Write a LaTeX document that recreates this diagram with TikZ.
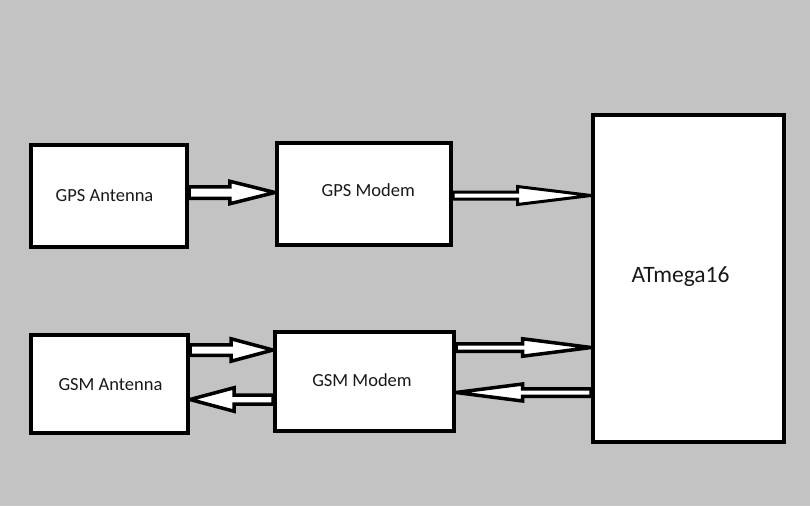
\documentclass[tikz,border=0pt]{standalone}
\usepackage{fontspec}
\setmainfont{Carlito}
\usetikzlibrary{calc,backgrounds}
\definecolor{bggray}{HTML}{C3C3C3}
\tikzset{
  boxnode/.style={draw=black, fill=white, line width=4pt, rectangle, inner sep=0pt},
  lbl/.style={anchor=base, font=\fontsize{18.5}{20}\selectfont, inner sep=0pt, text=black!90},
  biglbl/.style={anchor=base, font=\fontsize{23.5}{26}\selectfont, inner sep=0pt, text=black!90},
  arrowline/.style={draw=black, fill=white, line join=miter}
}
% #1 start, #2 tip, #3 shaft half, #4 head half, #5 signed head length, #6 line width
\newcommand\blockarrow[6]{%
  \draw[arrowline, line width=#6pt] let \p1=(#1), \p2=(#2) in
    (\x1,{\y1+#3pt}) -- ({\x2-#5pt},{\y1+#3pt}) -- ({\x2-#5pt},{\y1+#4pt})
    -- (\x2,\y1) -- ({\x2-#5pt},{\y1-#4pt}) -- ({\x2-#5pt},{\y1-#3pt})
    -- (\x1,{\y1-#3pt}) -- cycle;}
\begin{document}
\begin{tikzpicture}[x=1pt,y=-1pt]
\path[use as bounding box] (0,0) rectangle (810,506);
% boxes
\node[boxnode, minimum width=156pt, minimum height=102pt] (gpsant) at (109,196) {};
\node[boxnode, minimum width=174pt, minimum height=102pt] (gpsmod) at (364,194) {};
\node[boxnode, minimum width=191pt, minimum height=327pt] (atmega) at (688.5,278.5) {};
\node[boxnode, minimum width=157pt, minimum height=98pt] (gsmant) at (109.5,384) {};
\node[boxnode, minimum width=179pt, minimum height=99pt] (gsmmod) at (364.5,381.5) {};
% labels
\node[lbl] (tgpsant) at (104.5,201) {GPS Antenna};
\node[lbl] (tgpsmod) at (368.3,196.7) {GPS Modem};
\node[lbl] (tgsmant) at (110.5,390) {GSM Antenna};
\node[lbl] (tgsmmod) at (362,386.7) {GSM Modem};
\node[biglbl] (tatmega) at (680.5,282) {ATmega16};
\begin{pgfonlayer}{background}
\fill[bggray] (0,0) rectangle (810,506);
\blockarrow{[yshift=3.5pt]gpsant.east}{gpsmod.west}{5.75}{11.25}{45.25}{3.5}
\blockarrow{[yshift=-1.5pt]gpsmod.east}{atmega.west}{3.5}{9}{73.5}{3}
\blockarrow{[yshift=34pt]gsmant.east}{gsmmod.west}{5.25}{11.25}{42}{3.5}
\blockarrow{[yshift=-18pt]gsmmod.west}{gsmant.east}{4.5}{11.75}{-44}{3.5}
\blockarrow{[yshift=34pt]gsmmod.east}{atmega.west}{3.75}{8.75}{68.5}{3.5}
\blockarrow{[yshift=-114pt]atmega.west}{gsmmod.east}{3.75}{8.5}{-66.5}{3.5}
\end{pgfonlayer}
\end{tikzpicture}
\end{document}
